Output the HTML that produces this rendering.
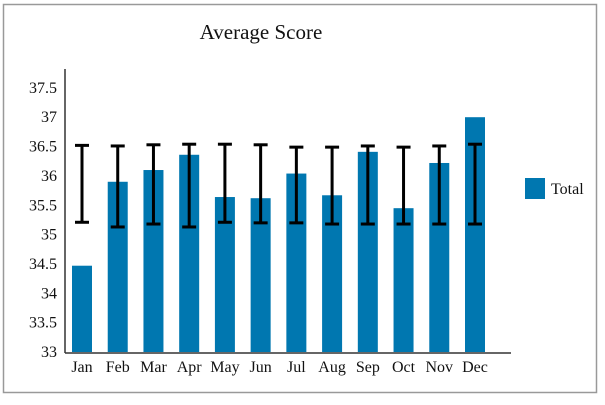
<!DOCTYPE html>
<html><head><meta charset="utf-8"><style>
body{margin:0;background:#fff;}
svg text{font-family:"Liberation Serif",serif;fill:#111;}
</style></head><body>
<svg width="605" height="400" xmlns="http://www.w3.org/2000/svg">
<rect x="3.5" y="4.5" width="593" height="388" fill="#fff" stroke="#999" stroke-width="1.5"/>
<text x="261" y="39" font-size="21" text-anchor="middle">Average Score</text>
<g id="plot"></g>
<rect x="525" y="178" width="20" height="21" fill="#0077b0"/>
<text x="551" y="194" font-size="16">Total</text>
</svg>
<script>
const categories=["Jan","Feb","Mar","Apr","May","Jun","Jul","Aug","Sep","Oct","Nov","Dec"];
const totals=[34.47,35.9,36.1,36.36,35.64,35.62,36.04,35.67,36.41,35.45,36.22,37.0];
const errHigh=[36.52,36.51,36.53,36.54,36.54,36.53,36.49,36.49,36.51,36.49,36.51,36.54];
const errLow=[35.21,35.13,35.18,35.13,35.21,35.2,35.2,35.18,35.18,35.18,35.18,35.18];
const yTicks=[33,33.5,34,34.5,35,35.5,36,36.5,37,37.5];
const yTickLabels=["33","33.5","34","34.5","35","35.5","36","36.5","37","37.5"];
const NS="http://www.w3.org/2000/svg";
const g=document.getElementById('plot');
const y0=352,pxPerUnit=58.7,yMin=33;
function yScale(v){return y0-(v-yMin)*pxPerUnit;}
function xScale(i){return 82+i*(475-82)/(categories.length-1);}
function mk(tag,attrs){const e=document.createElementNS(NS,tag);for(const k in attrs)e.setAttribute(k,attrs[k]);g.appendChild(e);return e;}
yTicks.forEach((t,i)=>{
  const e=mk('text',{x:57,y:yScale(t)+5,'font-size':16,'text-anchor':'end'});
  e.textContent=yTickLabels[i];
  
  
});
categories.forEach((c,i)=>{
  const x=xScale(i);
  const b=mk('rect',{x:x-10,y:yScale(totals[i]),width:20,height:y0-yScale(totals[i]),fill:'#0077b0'});
  
  
  const eg=document.createElementNS(NS,'g');
  
  
  g.appendChild(eg);
  const hi=yScale(errHigh[i]),lo=yScale(errLow[i]);
  [[x,hi,x,lo],[x-7,hi,x+7,hi],[x-7,lo,x+7,lo]].forEach(l=>{
    const ln=document.createElementNS(NS,'line');
    ln.setAttribute('x1',l[0]);ln.setAttribute('y1',l[1]);ln.setAttribute('x2',l[2]);ln.setAttribute('y2',l[3]);
    ln.setAttribute('stroke','#000');ln.setAttribute('stroke-width','3');
    eg.appendChild(ln);
  });
  const t=mk('text',{x:x,y:372,'font-size':16,'text-anchor':'middle'});
  t.textContent=c;
  
  
});
const ya=mk('line',{x1:65,y1:69,x2:65,y2:353,stroke:'#333','stroke-width':1.5});


const xa=mk('line',{x1:65,y1:353,x2:511,y2:353,stroke:'#333','stroke-width':1.5});


</script>
</body></html>
